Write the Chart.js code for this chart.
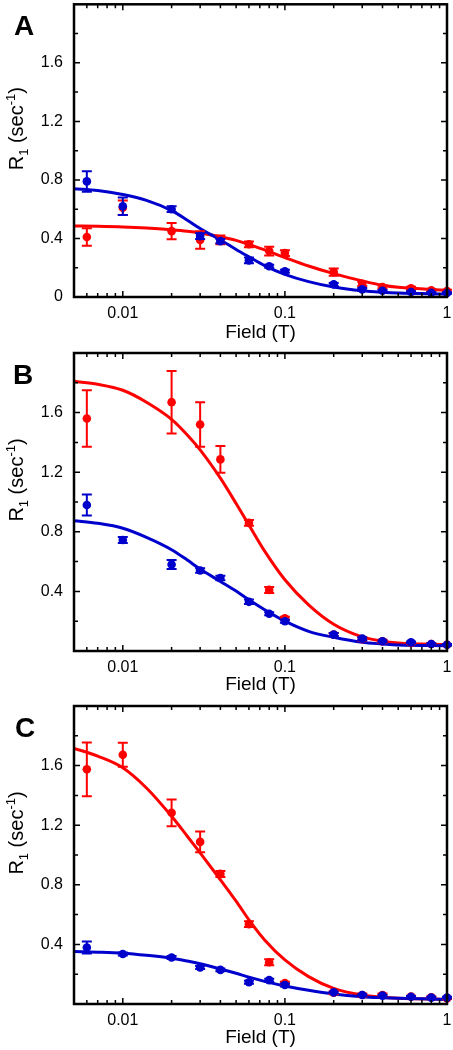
<!DOCTYPE html>
<html>
<head>
<meta charset="utf-8">
<script src="https://cdn.jsdelivr.net/npm/chart.js@4.4.1/dist/chart.umd.min.js"></script>
<style>
  body { margin: 0; background: #fff; }
  canvas { position: absolute; left: 0; }
</style>
</head>
<body>
<canvas id="panelA" width="453" height="345" style="top:0px"></canvas>
<canvas id="panelB" width="453" height="352" style="top:345px"></canvas>
<canvas id="panelC" width="453" height="353" style="top:697px"></canvas>
<script>
// field values (T) of the measured points
const fields = [0.006, 0.01, 0.02, 0.03, 0.04, 0.06, 0.08, 0.1, 0.2, 0.3, 0.4, 0.6, 0.8, 1.0];
const fitFields = [0.005, 0.007, 0.01, 0.014, 0.02, 0.025, 0.03, 0.04, 0.05, 0.06, 0.075, 0.1, 0.14, 0.2, 0.3, 0.4, 0.5, 1.0];

// panel A
const redA = [0.41, 0.61, 0.45, 0.39, 0.39, 0.36, 0.314, 0.30, 0.17, 0.09, 0.068, 0.06, 0.045, 0.04];
const redAErr = [0.06, 0.05, 0.055, 0.06, 0.03, 0.02, 0.03, 0.02, 0.025, 0.015, 0.01, 0.01, 0.01, 0.01];
const blueA = [0.79, 0.62, 0.60, 0.416, 0.382, 0.25, 0.21, 0.176, 0.086, 0.052, 0.043, 0.034, 0.029, 0.027];
const blueAErr = [0.07, 0.06, 0.02, 0.02, 0.015, 0.02, 0.01, 0.01, 0.01, 0.01, 0.005, 0.005, 0.005, 0.005];
const fitRedA = [0.485, 0.483, 0.479, 0.472, 0.46, 0.45, 0.438, 0.412, 0.387, 0.36, 0.322, 0.27, 0.212, 0.16, 0.11, 0.08, 0.066, 0.046];
const fitBlueA = [0.74, 0.728, 0.70, 0.66, 0.59, 0.525, 0.468, 0.39, 0.325, 0.275, 0.215, 0.155, 0.105, 0.068, 0.042, 0.032, 0.027, 0.02];

// panel B
const redB = [1.56, null, 1.67, 1.52, 1.286, 0.86, 0.41, 0.22, 0.11, 0.08, 0.065, 0.054, 0.047, 0.042];
const redBErr = [0.19, null, 0.21, 0.15, 0.09, 0.02, 0.02, 0.01, 0.01, 0.01, 0.01, 0.005, 0.005, 0.005];
const blueB = [0.98, 0.745, 0.58, 0.54, 0.49, 0.33, 0.25, 0.20, 0.11, 0.083, 0.065, 0.058, 0.047, 0.042];
const blueBErr = [0.07, 0.02, 0.03, 0.015, 0.015, 0.015, 0.01, 0.01, 0.01, 0.01, 0.005, 0.005, 0.005, 0.005];
const fitRedB = [1.81, 1.79, 1.75, 1.67, 1.555, 1.45, 1.35, 1.16, 0.99, 0.845, 0.67, 0.478, 0.31, 0.18, 0.095, 0.066, 0.054, 0.042];
const fitBlueB = [0.875, 0.857, 0.824, 0.763, 0.68, 0.61, 0.55, 0.467, 0.402, 0.344, 0.277, 0.2, 0.132, 0.092, 0.058, 0.047, 0.04, 0.036];

// panel C
const redC = [1.575, 1.673, 1.283, 1.088, 0.873, 0.536, 0.28, 0.14, 0.076, 0.06, 0.06, 0.05, 0.045, 0.038];
const redCErr = [0.18, 0.08, 0.09, 0.07, 0.02, 0.02, 0.02, 0.01, 0.01, 0.01, 0.01, 0.005, 0.005, 0.005];
const blueC = [0.379, 0.336, 0.312, 0.245, 0.229, 0.146, 0.16, 0.128, 0.078, 0.06, 0.056, 0.049, 0.043, 0.043];
const blueCErr = [0.04, 0.01, 0.01, 0.01, 0.01, 0.01, 0.01, 0.01, 0.005, 0.005, 0.005, 0.005, 0.005, 0.005];
const fitRedC = [1.716, 1.664, 1.586, 1.45, 1.26, 1.126, 1.014, 0.834, 0.69, 0.565, 0.43, 0.296, 0.184, 0.105, 0.06, 0.045, 0.038, 0.031];
const fitBlueC = [0.352, 0.348, 0.341, 0.327, 0.307, 0.288, 0.27, 0.235, 0.206, 0.18, 0.152, 0.121, 0.092, 0.067, 0.049, 0.042, 0.038, 0.031];

// ticks
const xTickLabels = [0.01, 0.1, 1];
const xMinorTicks = [0.006, 0.007, 0.008, 0.009, 0.02, 0.03, 0.04, 0.05, 0.06, 0.07, 0.08, 0.09,
  0.2, 0.3, 0.4, 0.5, 0.6, 0.7, 0.8, 0.9];
const yTickLabelsA = [0, 0.4, 0.8, 1.2, 1.6];
const yTickLabelsBC = [0.4, 0.8, 1.2, 1.6];
const yMajorTicks = [0.4, 0.8, 1.2, 1.6];
const yMinorTicks = [0.2, 0.6, 1.0, 1.4, 1.8];

const RED = "#ff0000";
const BLUE = "#0000cc";
const FONT = "'Liberation Sans', Arial, sans-serif";

Chart.defaults.font.family = FONT;
Chart.defaults.color = "#000";

function drawYTitle(ctx, x, cy) {
  const big = "20px " + FONT;
  const small = "13px " + FONT;
  const parts = [["R", big, 0], ["1", small, 5], [" (sec", big, 0], ["-1", small, -8], [")", big, 0]];
  let total = 0;
  parts.forEach((p) => { ctx.font = p[1]; total += ctx.measureText(p[0]).width; });
  ctx.save();
  ctx.translate(x, cy);
  ctx.rotate(-Math.PI / 2);
  ctx.fillStyle = "#000";
  ctx.textBaseline = "alphabetic";
  ctx.textAlign = "left";
  let pos = -total / 2;
  parts.forEach((p) => {
    ctx.font = p[1];
    ctx.fillText(p[0], pos, p[2]);
    pos += ctx.measureText(p[0]).width;
  });
  ctx.restore();
}

const framePlugin = {
  id: "frame",
  beforeDatasetDraw(chart, args) {
    const ds = chart.data.datasets[args.index];
    if (!ds.errors) return;
    const ctx = chart.ctx;
    const xs = chart.scales.x, ys = chart.scales.y;
    ctx.save();
    ctx.strokeStyle = ds.backgroundColor;
    ctx.lineWidth = 2;
    ds.data.forEach((p, i) => {
      const e = ds.errors[i];
      if (p.y == null || e == null) return;
      const px = xs.getPixelForValue(p.x);
      const top = ys.getPixelForValue(p.y + e);
      const bot = ys.getPixelForValue(p.y - e);
      ctx.beginPath();
      ctx.moveTo(px, top); ctx.lineTo(px, bot);
      ctx.moveTo(px - 5, top); ctx.lineTo(px + 5, top);
      ctx.moveTo(px - 5, bot); ctx.lineTo(px + 5, bot);
      ctx.stroke();
    });
    ctx.restore();
  },
  afterDraw(chart, args, opts) {
    const ctx = chart.ctx;
    const a = chart.chartArea;
    const xs = chart.scales.x, ys = chart.scales.y;
    ctx.save();
    ctx.strokeStyle = "#000";
    ctx.lineWidth = 1.5;
    ctx.beginPath();
    xTickLabels.forEach((v) => {
      const px = xs.getPixelForValue(v);
      ctx.moveTo(px, a.bottom); ctx.lineTo(px, a.bottom - 6);
      ctx.moveTo(px, a.top); ctx.lineTo(px, a.top + 6);
    });
    xMinorTicks.forEach((v) => {
      const px = xs.getPixelForValue(v);
      ctx.moveTo(px, a.bottom); ctx.lineTo(px, a.bottom - 4);
      ctx.moveTo(px, a.top); ctx.lineTo(px, a.top + 4);
    });
    yMajorTicks.forEach((v) => {
      const py = ys.getPixelForValue(v);
      ctx.moveTo(a.left, py); ctx.lineTo(a.left + 6, py);
      ctx.moveTo(a.right, py); ctx.lineTo(a.right - 6, py);
    });
    yMinorTicks.forEach((v) => {
      const py = ys.getPixelForValue(v);
      ctx.moveTo(a.left, py); ctx.lineTo(a.left + 4, py);
      ctx.moveTo(a.right, py); ctx.lineTo(a.right - 4, py);
    });
    ctx.stroke();
    ctx.lineWidth = 2.5;
    ctx.strokeRect(a.left, a.top, a.right - a.left, a.bottom - a.top);

    ctx.fillStyle = "#000";
    ctx.font = "bold 28px " + FONT;
    ctx.textBaseline = "alphabetic";
    ctx.textAlign = "left";
    ctx.fillText(opts.letter, opts.letterX, a.top + 31);
    ctx.restore();

    drawYTitle(ctx, 23, (a.top + a.bottom) / 2 - 22);
  },
};

function toPoints(xv, yv) {
  return xv.map((x, i) => ({ x: x, y: yv[i] }));
}

function makePanel(id, opt) {
  new Chart(document.getElementById(id), {
    type: "scatter",
    data: {
      datasets: [
        { data: toPoints(fields, opt.blue), errors: opt.blueErr, backgroundColor: BLUE,
          pointRadius: 4.3, pointBorderWidth: 0, borderWidth: 0, order: 0, clip: false },
        { data: toPoints(fields, opt.red), errors: opt.redErr, backgroundColor: RED,
          pointRadius: 4.3, pointBorderWidth: 0, borderWidth: 0, order: 1, clip: false },
        { type: "line", data: toPoints(fitFields, opt.fitBlue), borderColor: BLUE, borderWidth: 3,
          pointRadius: 0, cubicInterpolationMode: "monotone", fill: false, order: 2 },
        { type: "line", data: toPoints(fitFields, opt.fitRed), borderColor: RED, borderWidth: 3,
          pointRadius: 0, cubicInterpolationMode: "monotone", fill: false, order: 3 },
      ],
    },
    options: {
      responsive: false,
      animation: false,
      events: [],
      layout: { padding: { top: opt.padTop, right: 6, left: 0, bottom: 0 } },
      plugins: {
        legend: { display: false },
        tooltip: { enabled: false },
        frame: { letter: opt.letter, letterX: opt.letterX },
      },
      scales: {
        x: {
          type: "logarithmic",
          min: 0.005,
          max: 1,
          grid: { display: false, drawTicks: false },
          border: { display: false },
          afterBuildTicks: (s) => { s.ticks = xTickLabels.map((v) => ({ value: v })); },
          ticks: {
            padding: 7, font: { size: 16 }, color: "#000", maxRotation: 0, autoSkip: false,
            callback: (v) => String(v),
          },
          title: { display: true, text: "Field (T)", font: { size: 19 }, color: "#000", padding: { top: 0, bottom: 1 } },
          afterFit: (s) => { s.height = opt.axisH; s.paddingLeft = 0; s.paddingRight = 0; },
        },
        y: {
          min: 0,
          max: 2,
          grid: { display: false, drawTicks: false },
          border: { display: false },
          afterBuildTicks: (s) => { s.ticks = opt.yLabels.map((v) => ({ value: v })); },
          ticks: {
            padding: 11, font: { size: 16 }, color: "#000", autoSkip: false,
            callback: (v) => (v === 0 ? "0" : v.toFixed(1)),
          },
          afterFit: (s) => { s.width = 74; s.paddingTop = 0; s.paddingBottom = 0; },
        },
      },
    },
    plugins: [framePlugin],
  });
}

makePanel("panelA", {
  red: redA, redErr: redAErr, blue: blueA, blueErr: blueAErr, fitRed: fitRedA, fitBlue: fitBlueA,
  yLabels: yTickLabelsA, padTop: 2, axisH: 48, letter: "A", letterX: 14,
});
makePanel("panelB", {
  red: redB, redErr: redBErr, blue: blueB, blueErr: blueBErr, fitRed: fitRedB, fitBlue: fitBlueB,
  yLabels: yTickLabelsBC, padTop: 8, axisH: 46, letter: "B", letterX: 13,
});
makePanel("panelC", {
  red: redC, redErr: redCErr, blue: blueC, blueErr: blueCErr, fitRed: fitRedC, fitBlue: fitBlueC,
  yLabels: yTickLabelsBC, padTop: 9, axisH: 46, letter: "C", letterX: 15,
});
</script>
</body>
</html>
